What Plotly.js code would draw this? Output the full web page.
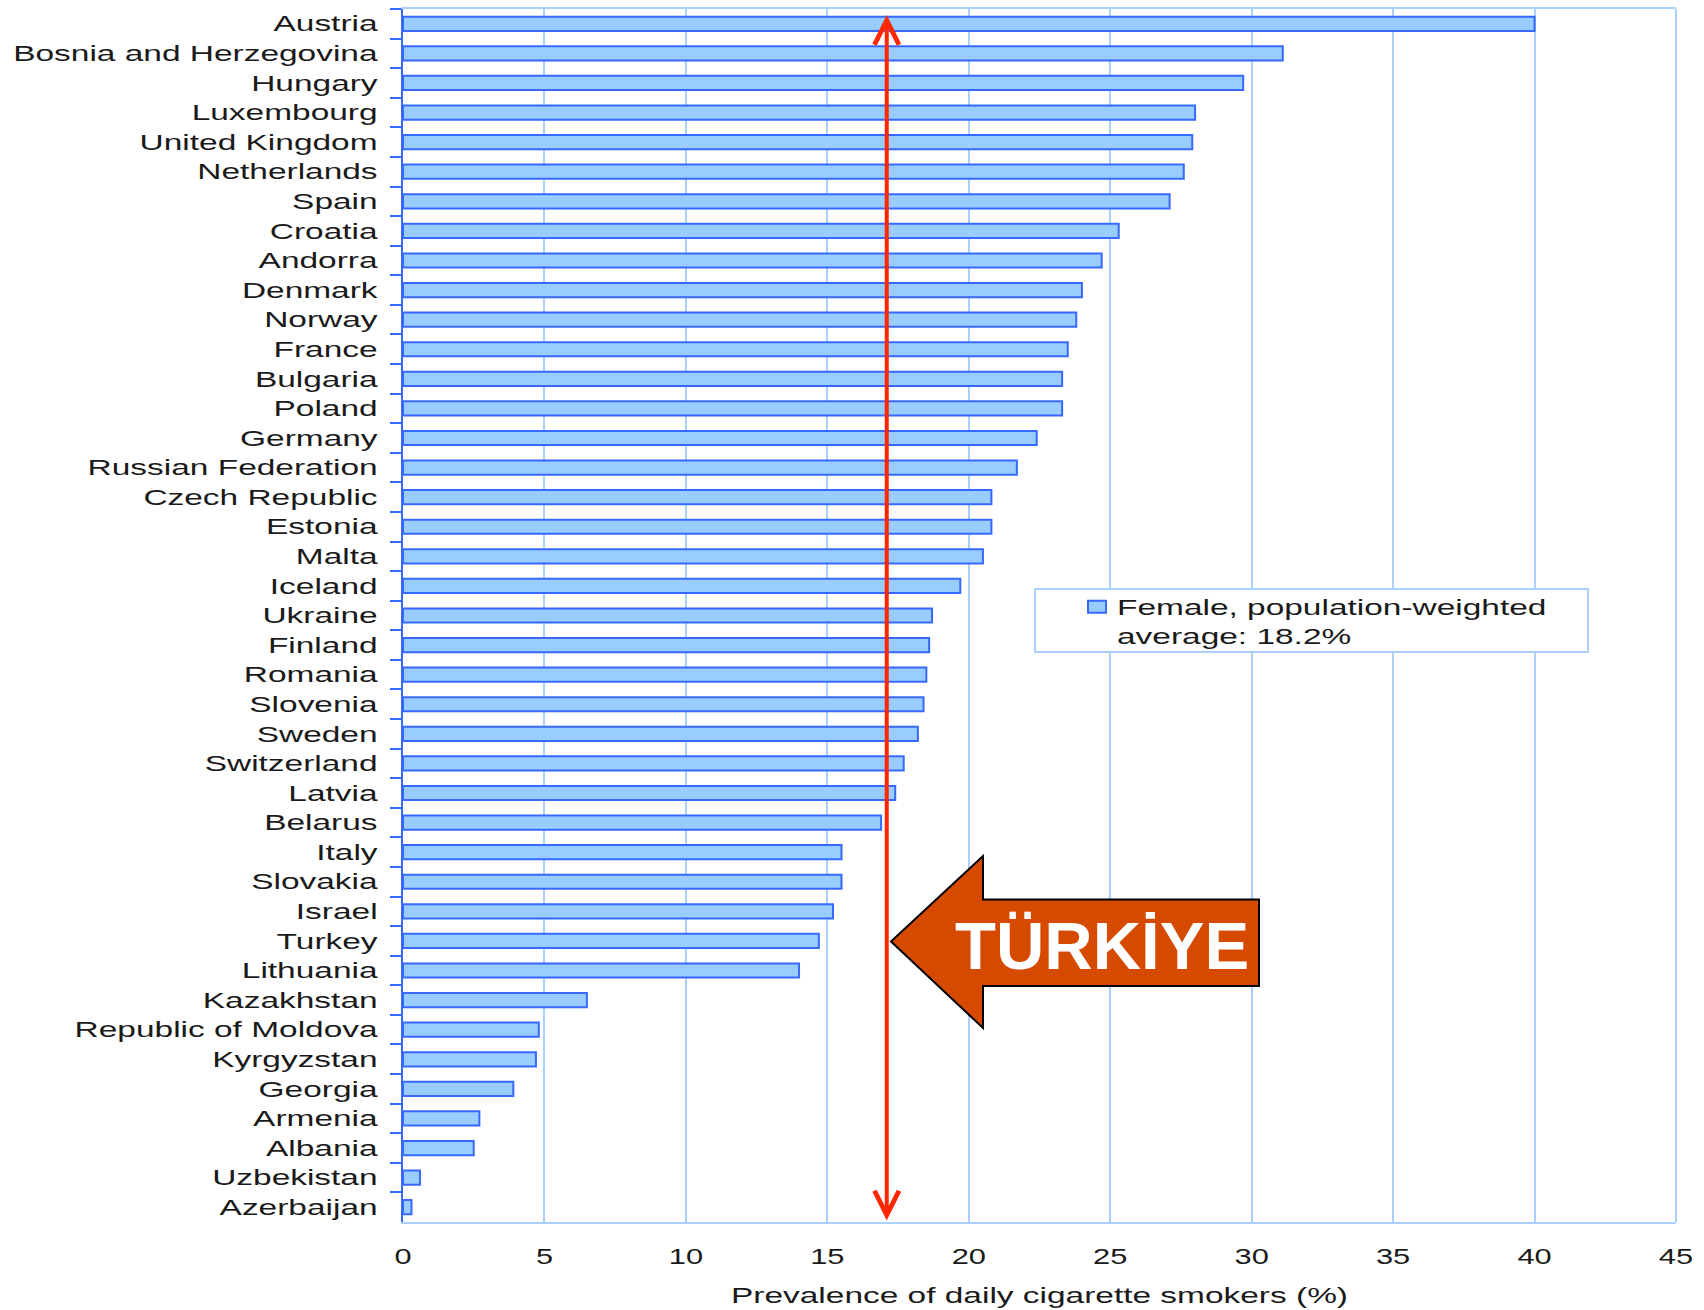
<!DOCTYPE html>
<html>
<head>
<meta charset="utf-8">
<script src="https://cdn.plot.ly/plotly-3.0.1.min.js"></script>
<style>
html,body{margin:0;padding:0;background:#fff;}
#chart{width:1704px;height:1310px;}
</style>
</head>
<body>
<div id="chart"></div>
<script>
// ---- data ----
const countries = [
  'Austria','Bosnia and Herzegovina','Hungary','Luxembourg','United Kingdom','Netherlands',
  'Spain','Croatia','Andorra','Denmark','Norway','France','Bulgaria','Poland','Germany',
  'Russian Federation','Czech Republic','Estonia','Malta','Iceland','Ukraine','Finland',
  'Romania','Slovenia','Sweden','Switzerland','Latvia','Belarus','Italy','Slovakia','Israel',
  'Turkey','Lithuania','Kazakhstan','Republic of Moldova','Kyrgyzstan','Georgia','Armenia',
  'Albania','Uzbekistan','Azerbaijan'
];
const femaleDailySmokers = [
  40.0, 31.1, 29.7, 28.0, 27.9, 27.6,
  27.1, 25.3, 24.7, 24.0, 23.8, 23.5, 23.3, 23.3, 22.4,
  21.7, 20.8, 20.8, 20.5, 19.7, 18.7, 18.6,
  18.5, 18.4, 18.2, 17.7, 17.4, 16.9, 15.5, 15.5, 15.2,
  14.7, 14.0, 6.5, 4.8, 4.7, 3.9, 2.7,
  2.5, 0.6, 0.3
];
const xTickValues = [0, 5, 10, 15, 20, 25, 30, 35, 40, 45];
const xTickLabels = ['0', '5', '10', '15', '20', '25', '30', '35', '40', '45'];
const seriesName = 'Female, population-weighted<br>average: 18.2%';
const xTitle = 'Prevalence of daily cigarette smokers (%)';
const markerValue = 17.1;          // red double arrow position (%)
const calloutLabel = 'TÜRKİYE';

// ---- styling ----
const W = 1704, H = 1310;
const L = 403, R = 1676, T = 9, B = 1222;   // plot area in px
const px = x => (x - L) / (R - L);
const py = y => (B - y) / (B - T);

const gridBlue = 'rgb(170,208,255)';
const axisBlue = 'rgb(55,105,255)';
const barFill = 'rgb(153,204,255)';
const arrowRed = 'rgb(255,38,0)';
const calloutFill = 'rgb(214,74,0)';
const font = 'Liberation Sans, Arial, sans-serif';

const trace = {
  type: 'bar',
  orientation: 'h',
  x: femaleDailySmokers,
  y: countries,
  name: seriesName,
  width: 0.48,
  marker: {color: barFill, line: {color: axisBlue, width: 2}},
  hoverinfo: 'none',
  showlegend: true
};

// block arrow path (pixel points converted to paper)
const blockPts = [[891,941.5],[983,856],[983,899.5],[1259,899.5],[1259,986],[983,986],[983,1028]];
const blockPath = 'M' + blockPts.map(p => px(p[0]).toFixed(5) + ',' + py(p[1]).toFixed(5)).join(' L') + ' Z';

const layout = {
  width: W, height: H,
  margin: {l: L, r: W - R, t: T, b: H - B, pad: 0},
  paper_bgcolor: '#fff',
  plot_bgcolor: '#fff',
  font: {family: font, size: 22, color: '#1a1a1a'},
  showlegend: true,
  bargap: 0.5,
  xaxis: {
    range: [0, 45],
    tickvals: xTickValues,
    ticktext: xTickLabels,
    ticks: '',
    showgrid: true,
    gridcolor: gridBlue,
    gridwidth: 2,
    zeroline: false,
    showline: true,
    linecolor: gridBlue,
    linewidth: 2,
    mirror: true,
    tickfont: {family: font, size: 22, color: '#1a1a1a'},
    ticklabelstandoff: 14,
    title: {text: xTitle, font: {family: font, size: 22, color: '#1a1a1a'}, standoff: 19},
    fixedrange: true
  },
  yaxis: {
    type: 'category',
    range: [countries.length - 0.5, -0.5],
    tickson: 'boundaries',
    ticks: 'outside',
    ticklen: 11,
    tickwidth: 2,
    tickcolor: axisBlue,
    showgrid: false,
    zeroline: false,
    showline: true,
    linecolor: axisBlue,
    linewidth: 2,
    tickfont: {family: font, size: 22, color: '#1a1a1a'},
    ticklabelstandoff: 19,
    fixedrange: true
  },
  legend: {
    x: px(1077), y: py(586), xanchor: 'left', yanchor: 'top', valign: 'top',
    bgcolor: 'rgba(0,0,0,0)', borderwidth: 0,
    font: {family: font, size: 22, color: '#1a1a1a'}
  },
  shapes: [
    // right border of the plot
    {type: 'line', xref: 'paper', yref: 'paper', x0: 1, x1: 1, y0: 0, y1: 1,
     line: {color: gridBlue, width: 2}, layer: 'below'},
    // legend box
    {type: 'rect', xref: 'paper', yref: 'paper', x0: px(1035), x1: px(1588), y0: py(652), y1: py(589),
     fillcolor: '#fff', line: {color: gridBlue, width: 2}, layer: 'above'},
    // TÜRKİYE block arrow
    {type: 'path', xref: 'paper', yref: 'paper', path: blockPath,
     fillcolor: calloutFill, line: {color: '#000', width: 2}, layer: 'above'}
  ],
  annotations: [
    {
      xref: 'x', yref: 'y domain', axref: 'x', ayref: 'y domain',
      x: markerValue, y: py(15), ax: markerValue, ay: 0,
      text: '', showarrow: true, arrowside: 'end+start',
      arrowhead: 5, startarrowhead: 5, arrowsize: 1.2, startarrowsize: 1.2,
      arrowwidth: 4, arrowcolor: arrowRed, standoff: 0, startstandoff: 0
    },
    {
      xref: 'paper', yref: 'paper', x: px(1101.5), y: py(945), xanchor: 'center', yanchor: 'middle',
      text: calloutLabel, showarrow: false,
      font: {family: font, size: 67, color: '#fff', weight: 'bold'}
    }
  ]
};

function stretch(selector, factor) {
  document.querySelectorAll(selector).forEach(function (t) {
    const lines = t.querySelectorAll('tspan.line');
    const targets = lines.length ? lines : [t];
    targets.forEach(function (el) {
      const w = el.getComputedTextLength();
      if (w > 0) {
        el.setAttribute('textLength', (w * factor).toFixed(1));
        el.setAttribute('lengthAdjust', 'spacingAndGlyphs');
      }
    });
  });
}

Plotly.newPlot('chart', [trace], layout, {displayModeBar: false, staticPlot: true}).then(function () {
  stretch('.ytick text', 1.52);
  stretch('.xtick text', 1.4);
  stretch('.g-xtitle text', 1.52);
  stretch('.legendtext', 1.52);
  // let the widened legend text show in full
  document.querySelectorAll('.legend, .legend [clip-path]').forEach(function (el) {
    el.removeAttribute('clip-path');
  });
  // wider legend swatch, as in the reference
  document.querySelectorAll('.legendpoints path').forEach(function (p) {
    p.setAttribute('d', 'M9,6H-9V-6H9Z');
  });
});
</script>
</body>
</html>
